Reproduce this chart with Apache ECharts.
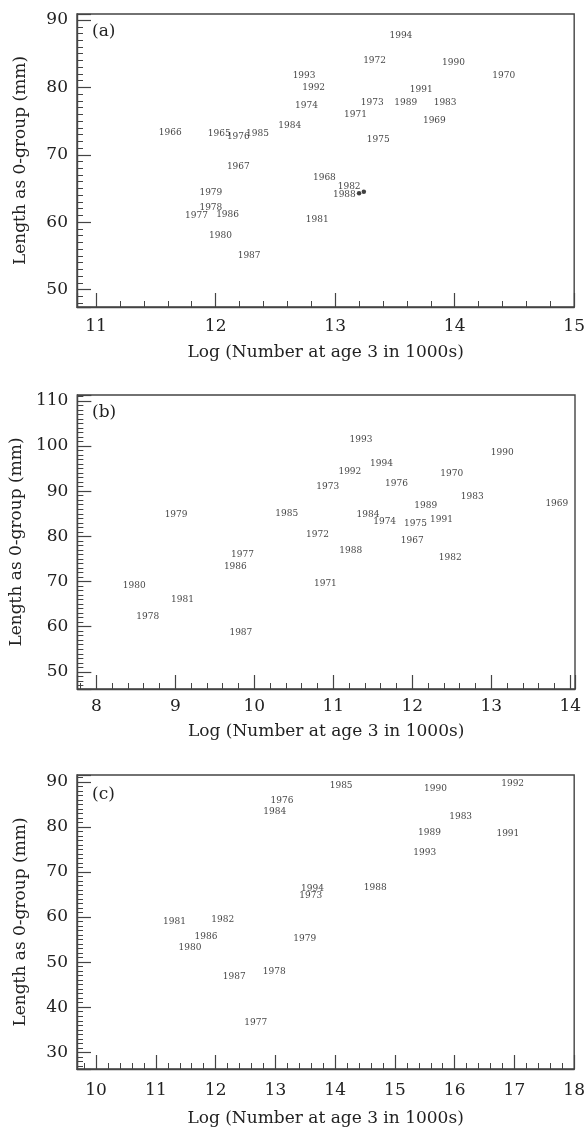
<!DOCTYPE html>
<html><head><meta charset="utf-8">
<script src="https://cdn.jsdelivr.net/npm/echarts@6/dist/echarts.min.js"></script>
<style>html,body{margin:0;padding:0;background:#fff}#c{width:588px;height:1128px}</style>
</head><body><div id="c"></div>
<script>
// ---- Panel (a) ----
const yearsA = ['1993','1992','1974','1984','1966','1965','1976','1985','1967','1968','1979','1978','1977','1986','1981','1980','1987','1994','1972','1990','1970','1991','1973','1989','1983','1971','1969','1975'];
const logNA  = [12.74,12.82,12.76,12.62,11.62,12.03,12.19,12.35,12.19,12.91,11.96,11.96,11.84,12.10,12.85,12.04,12.28,13.55,13.33,13.99,14.41,13.72,13.31,13.59,13.92,13.17,13.83,13.36];
const lenA   = [81.7,79.9,77.3,74.3,73.3,73.1,72.7,73.2,68.2,66.6,64.4,62.1,61.0,61.1,60.4,58.0,55.0,87.7,83.9,83.7,81.7,79.7,77.7,77.8,77.8,75.9,75.0,72.2];
// points in (a) drawn as dots with their year beside them
const dotYearsA = ['1982','1988'];
const dotLogNA  = [13.24,13.20];
const dotLenA   = [64.5,64.3];

// ---- Panel (b) ----
const yearsB = ['1973','1979','1985','1972','1977','1986','1980','1971','1981','1978','1987','1993','1990','1994','1992','1970','1976','1983','1969','1989','1984','1974','1975','1991','1967','1988','1982'];
const logNB  = [10.93,9.01,10.41,10.80,9.85,9.76,8.48,10.90,9.09,8.65,9.83,11.35,13.14,11.61,11.21,12.50,11.80,12.76,13.83,12.17,11.44,11.65,12.04,12.37,12.00,11.22,12.48];
const lenB   = [91.0,84.8,85.0,80.4,76.0,73.4,69.0,69.6,66.0,62.3,58.6,101.4,98.5,96.1,94.3,93.9,91.6,88.8,87.2,86.9,84.8,83.3,82.9,83.6,79.0,76.8,75.2];

// ---- Panel (c) ----
const yearsC = ['1976','1984','1994','1973','1981','1982','1986','1980','1979','1987','1978','1977','1985','1990','1992','1983','1989','1991','1993','1988'];
const logNC  = [13.11,12.99,13.62,13.59,11.31,12.12,11.84,11.57,13.49,12.31,12.98,12.67,14.10,15.68,16.97,16.10,15.58,16.89,15.50,14.67];
const lenC   = [85.9,83.4,66.2,64.8,58.9,59.5,55.6,53.3,55.2,46.8,47.8,36.5,89.1,88.5,89.5,82.3,78.8,78.5,74.3,66.6];

const panelLetters = ['(a)','(b)','(c)'];
const xTitle = 'Log (Number at age 3 in 1000s)';
const yTitle = 'Length as 0-group (mm)';

const FF = 'DejaVu Serif';
const TXT = '#222';
const PT = '#111';
const LINE = '#444';

const grids = [
  {left:77, right:13, top:14,  height:293},
  {left:77, right:13, top:395, height:294},
  {left:77, right:13, top:775, height:294}
].map(g => Object.assign(g, {show:true, borderColor:LINE, borderWidth:1.4, backgroundColor:'transparent'}));

function xAxisCfg(i, min, max, showMax, splitNumber, labelMargin, nameGap) {
  return {
    type:'value', gridIndex:i, min:min, max:max, splitNumber:splitNumber,
    name:xTitle, nameLocation:'middle', nameGap:nameGap,
    nameTextStyle:{fontFamily:FF, fontSize:17, color:TXT},
    axisLine:{show:true, onZero:false, lineStyle:{color:LINE, width:1.4}},
    axisTick:{show:true, inside:true, length:14, lineStyle:{color:LINE, width:1.2}},
    minorTick:{show:true, splitNumber:5, length:6, lineStyle:{color:LINE, width:1}},
    axisLabel:{showMinLabel:false, showMaxLabel:showMax, margin:labelMargin, fontFamily:FF, fontSize:17, color:TXT},
    splitLine:{show:false}, minorSplitLine:{show:false}
  };
}
function yAxisCfg(i, min, max) {
  return {
    type:'value', gridIndex:i, min:min, max:max,
    name:yTitle, nameLocation:'middle', nameGap:48,
    nameTextStyle:{fontFamily:FF, fontSize:17, color:TXT},
    axisLine:{show:true, onZero:false, lineStyle:{color:LINE, width:1.4}},
    axisTick:{show:true, inside:true, length:14, lineStyle:{color:LINE, width:1.2}},
    minorTick:{show:true, splitNumber:10, length:6, lineStyle:{color:LINE, width:1}},
    axisLabel:{showMinLabel:false, showMaxLabel:false, margin:9, fontFamily:FF, fontSize:17, color:TXT},
    splitLine:{show:false}, minorSplitLine:{show:false}
  };
}

function labelSeries(i, xs, ys, yrs) {
  return {
    type:'scatter', xAxisIndex:i, yAxisIndex:i, silent:true,
    symbolSize:1, itemStyle:{color:'rgba(0,0,0,0)'},
    data: xs.map((x,k) => [x, ys[k], yrs[k]]),
    label:{show:true, position:'inside', formatter:p => p.value[2], fontFamily:FF, fontSize:9, color:PT}
  };
}

const dotLabelOffsets = [[0,-5],[0,1]];
const dotSeries = {
  type:'scatter', xAxisIndex:0, yAxisIndex:0, silent:true,
  symbol:'circle', symbolSize:4.5, itemStyle:{color:PT},
  data: dotLogNA.map((x,k) => ({value:[x, dotLenA[k], dotYearsA[k]], label:{offset:dotLabelOffsets[k]}})),
  label:{show:true, position:'left', distance:1, formatter:p => p.value[2], fontFamily:FF, fontSize:9, color:PT}
};

const option = {
  animation:false,
  backgroundColor:'#fff',
  title: panelLetters.map((t,i) => ({
    text:t, left:92, top:[23,404,786][i], padding:0,
    textStyle:{fontFamily:FF, fontSize:17, fontWeight:'normal', color:TXT}
  })),
  grid: grids,
  xAxis: [
    xAxisCfg(0, 10.84, 15, true, 5, 11, 37),
    xAxisCfg(1, 7.76, 14.06, false, 5, 9, 34),
    xAxisCfg(2, 9.68, 18, true, 8, 13, 41)
  ],
  yAxis: [
    yAxisCfg(0, 47.4, 90.9),
    yAxisCfg(1, 46.2, 111.3),
    yAxisCfg(2, 26.3, 91.5)
  ],
  series: [
    labelSeries(0, logNA, lenA, yearsA),
    dotSeries,
    labelSeries(1, logNB, lenB, yearsB),
    labelSeries(2, logNC, lenC, yearsC)
  ]
};
const chart = echarts.init(document.getElementById('c'), null, {renderer:'canvas'});
chart.setOption(option);
</script>
</body></html>
